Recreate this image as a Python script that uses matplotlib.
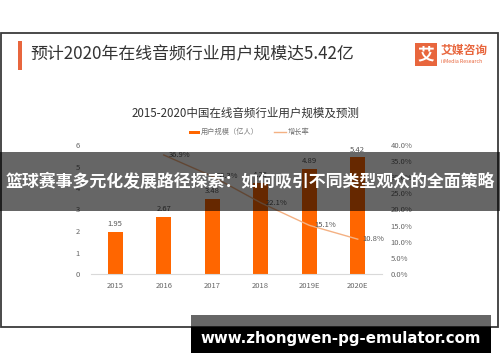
import matplotlib
matplotlib.use("Agg")
import matplotlib.pyplot as plt
from matplotlib.patches import Rectangle
from matplotlib.ticker import FuncFormatter

plt.rcParams['font.family'] = ['Noto Sans CJK SC', 'DejaVu Sans']

years = ["2015", "2016", "2017", "2018", "2019E", "2020E"]
users = [1.95, 2.67, 3.48, 4.25, 4.89, 5.42]
growth_years_idx = [1, 2, 3, 4, 5]
growth = [36.9, 30.3, 22.1, 15.1, 10.8]

W, H = 500, 362
fig = plt.figure(figsize=(W / 100, H / 100), dpi=100)
fig.patch.set_facecolor("white")

def fx(x):
    return x / W

def fy(y):
    return 1 - y / H

# frame
fig.add_artist(Rectangle((fx(1), fy(327)), fx(497), fy(33) - fy(327),
                         transform=fig.transFigure, fill=False,
                         edgecolor="#3a3a3a", lw=1.3, zorder=1))
# accent bar
fig.add_artist(Rectangle((fx(18), fy(70)), fx(4), fy(41) - fy(70),
                         transform=fig.transFigure, facecolor="#E8663D",
                         edgecolor="none", zorder=1))
fig.text(fx(30), fy(54), "预计2020年在线音频行业用户规模达5.42亿", fontsize=12.2,
         color="#333333", va="center", ha="left")

# logo
fig.add_artist(Rectangle((fx(415), fy(66)), fx(22), fy(43) - fy(66),
                         transform=fig.transFigure, facecolor="#E8663D",
                         edgecolor="none", zorder=1))
fig.text(fx(426), fy(54.5), "艾", fontsize=12, color="white", ha="center",
         va="center", fontweight="bold")
fig.text(fx(441), fy(50), "艾媒咨询", fontsize=8.5, color="#E8663D",
         ha="left", va="center", fontweight="bold")
fig.text(fx(441), fy(61.5), "iiMedia Research", fontsize=3.8, color="#E8663D",
         ha="left", va="center")

# subtitle
fig.text(fx(245), fy(113), "2015-2020中国在线音频行业用户规模及预测", fontsize=8.3,
         color="#333333", ha="center", va="center")

# legend
fig.add_artist(Rectangle((fx(189), fy(134)), fx(11), fy(130.5) - fy(134),
                         transform=fig.transFigure, facecolor="#FF6600",
                         edgecolor="none", zorder=1))
fig.text(fx(201), fy(132), "用户规模（亿人）", fontsize=5.2, color="#777777",
         ha="left", va="center")
fig.add_artist(plt.Line2D([fx(274), fx(286)], [fy(132), fy(132)],
                          transform=fig.transFigure, color="#F4B183", lw=1))
fig.text(fx(288), fy(132), "增长率", fontsize=5.2, color="#777777",
         ha="left", va="center")

# main axes
ax = fig.add_axes([fx(91), fy(274), fx(291), fy(145) - fy(274)])
x = list(range(len(years)))
ax.bar(x, users, width=0.31, color="#FF6600", zorder=2)
ax.set_xlim(-0.5, len(years) - 0.5)
ax.set_ylim(0, 6)
ax.set_yticks(range(0, 7))
ax.set_xticks(x)
ax.set_xticklabels(years)
for s in ["top", "right", "left"]:
    ax.spines[s].set_visible(False)
ax.spines["bottom"].set_color("#d9d9d9")
ax.tick_params(axis="both", length=0, labelsize=5.5, colors="#666666")
ax.tick_params(axis="x", pad=6)
ax.tick_params(axis="y", pad=8)
for xi, v in zip(x, users):
    ax.text(xi, v + 0.18, f"{v:.2f}", ha="center", va="bottom",
            fontsize=5.5, color="#555555")

ax2 = ax.twinx()
ax2.set_ylim(0, 40)
ax2.set_yticks([0, 5, 10, 15, 20, 25, 30, 35, 40])
ax2.yaxis.set_major_formatter(FuncFormatter(lambda v, p: f"{v:.1f}%"))
ax2.plot(growth_years_idx, growth, color="#F4B183", lw=1, zorder=3)
for s in ["top", "right", "left", "bottom"]:
    ax2.spines[s].set_visible(False)
ax2.tick_params(axis="y", length=0, labelsize=5.5, colors="#666666", pad=6)
for xi, g in zip(growth_years_idx, growth):
    ax2.text(xi + 0.1, g, f"{g:.1f}%", ha="left", va="center",
             fontsize=5.5, color="#555555")

# overlay banner
fig.add_artist(Rectangle((0, fy(211)), 1, fy(152) - fy(211),
                         transform=fig.transFigure, facecolor="black",
                         alpha=0.6, edgecolor="none", zorder=10))
fig.text(0.5, fy(182), "篮球赛事多元化发展路径探索：如何吸引不同类型观众的全面策略",
         fontsize=12.2, color="white", fontweight="bold", ha="center",
         va="center", zorder=11)

# bottom watermark
fig.add_artist(Rectangle((fx(191), fy(327)), fx(300), fy(315) - fy(327),
                         transform=fig.transFigure, facecolor="black",
                         alpha=0.6, edgecolor="none", zorder=10))
fig.add_artist(Rectangle((fx(191), fy(353)), fx(300), fy(327) - fy(353),
                         transform=fig.transFigure, facecolor="black",
                         edgecolor="none", zorder=10))
fig.text(fx(341), fy(339), "www.zhongwen-pg-emulator.com", fontsize=10.8,
         color="white", fontweight="bold", ha="center", va="center",
         family=["DejaVu Sans"], zorder=11)

fig.savefig("out.png", dpi=100)
